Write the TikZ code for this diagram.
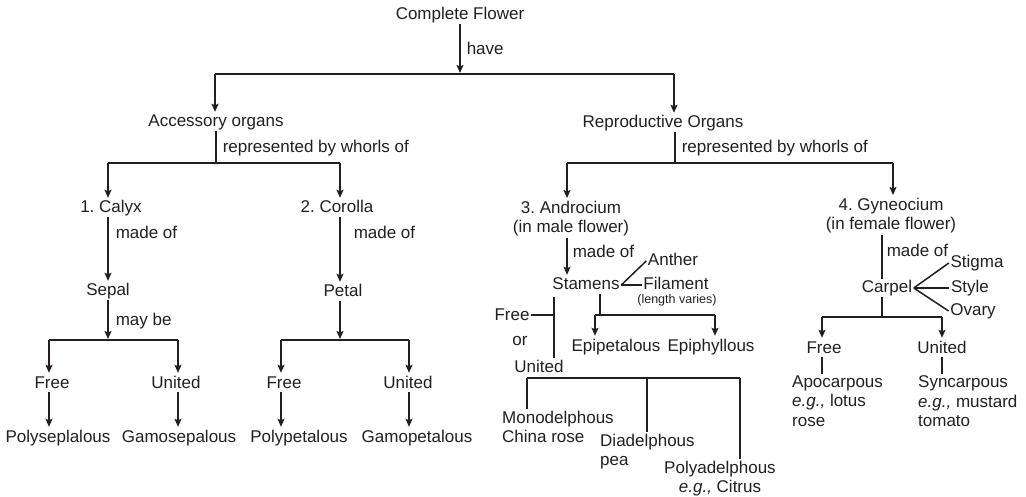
\documentclass[tikz,border=0pt]{standalone}
\usepackage{fontspec}
\setmainfont{Liberation Sans}
\usetikzlibrary{arrows.meta,positioning}
\definecolor{ink}{RGB}{35,31,32}
\frenchspacing

\begin{document}
\begin{tikzpicture}
[x=1pt,y=-1pt,
font=\fontsize{17}{19.5}\selectfont,
every node/.style={text=ink},
organ/.style={inner sep=1.5pt,text height=12.5pt,text depth=2.5pt},
twoline/.style={inner sep=1.5pt,align=center,anchor=north},
leftlines/.style={inner sep=1.5pt,align=left,anchor=north west},
tag/.style={inner sep=0pt,text height=12.5pt,text depth=2.5pt,anchor=west},
link/.style={draw=ink,line width=1.5pt},
post/.style={link,-{Stealth[length=8pt,width=7pt,inset=1.5pt]},shorten >=1pt}]
\useasboundingbox (0,0) rectangle (1026,497);
\node[organ] (flower) at (460,15) {Complete Flower};
\node[organ] (accessory) at (216,122) {Accessory organs};
\node[organ] (reproductive) at (663,123) {Reproductive Organs};
\node[organ] (calyx) at (111,208) {1. Calyx};
\node[organ] (corolla) at (337,208) {2. Corolla};
\node[twoline] (androcium) at (571,199) {3. Androcium\\(in male flower)};
\node[twoline] (gyneocium) at (891,196) {4. Gyneocium\\(in female flower)};
\node[organ] (sepal) at (108,291) {Sepal};
\node[organ] (petal) at (343,292) {Petal};
\node[organ] (sepal free) at (52,383) {Free};
\node[organ] (sepal united) at (176,383) {United};
\node[organ] (petal free) at (284,383) {Free};
\node[organ] (petal united) at (408,383) {United};
\node[organ] (polysepalous) at (58,437) {Polyseplalous};
\node[organ] (gamosepalous) at (179,437) {Gamosepalous};
\node[organ] (polypetalous) at (299,437) {Polypetalous};
\node[organ] (gamopetalous) at (417,437) {Gamopetalous};
\node[organ] (stamens) at (586,285) {Stamens};
\node[organ] (anther) at (673,261) {Anther};
\node[organ] (filament) at (676,285) {Filament};
\node[inner sep=0pt,font=\fontsize{12.5}{14}\selectfont] (length) at (677,300) {(length varies)};
\node[organ] (stamen free) at (512,315) {Free};
\node[organ] (or) at (520,340) {or};
\node[organ] (stamen united) at (539,367) {United};
\node[organ] (epipetalous) at (616,346) {Epipetalous};
\node[organ] (epiphyllous) at (711,346) {Epiphyllous};
\node[leftlines] (monodelphous) at (500.5,409) {Monodelphous\\China rose};
\node[leftlines] (diadelphous) at (598.5,432) {Diadelphous\\pea};
\node[twoline] (polyadelphous) at (720,459) {Polyadelphous\\\textit{e.g.,} Citrus};
\node[organ] (carpel) at (887,288) {Carpel};
\node[organ] (stigma) at (977,263) {Stigma};
\node[organ] (carpel style) at (970,288) {Style};
\node[organ] (ovary) at (973,311) {Ovary};
\node[organ] (carpel free) at (824,348) {Free};
\node[organ] (carpel united) at (942,348) {United};
\node[leftlines] (apocarpous) at (790.5,374) {Apocarpous\\\textit{e.g.,} lotus\\rose};
\node[leftlines] (syncarpous) at (916.5,374) {Syncarpous\\\textit{e.g.,} mustard\\tomato};
% junctions of the branching lines
\coordinate (main left) at (215,74);
\coordinate (main right) at (674,74);
\coordinate (acc hub) at (216,163);
\coordinate (acc left) at (108,163);
\coordinate (acc right) at (340,163);
\coordinate (rep hub) at (675,163);
\coordinate (rep left) at (567,163);
\coordinate (rep right) at (893,163);
\coordinate (sepal hub) at (108,340);
\coordinate (sepal left) at (49,340);
\coordinate (sepal right) at (178,340);
\coordinate (petal hub) at (340,340);
\coordinate (petal left) at (281,340);
\coordinate (petal right) at (409,340);
\coordinate (fork) at (554,297);
\coordinate (stamen hub) at (600,315);
\coordinate (stamen left) at (595,315);
\coordinate (stamen right) at (715,315);
\coordinate (united left) at (527,378);
\coordinate (united mid) at (647,378);
\coordinate (united right) at (740,378);
\coordinate (carpel hub) at (882,317);
\coordinate (carpel left) at (822,317);
\coordinate (carpel right) at (942,317);
% top level
\draw[post] (flower) -- (flower |- main left) node[tag,midway,xshift=6pt] (have) {have};
\draw[link] (main left) -- (main right);
\draw[post] (main left) -- (main left |- accessory.north);
\draw[post] (main right) -- (main right |- reproductive.north);
% accessory organs
\draw[link] (accessory) -- (acc hub) node[tag,midway,xshift=6pt] (acc whorls) {represented by whorls of};
\draw[link] (acc left) -- (acc right);
\draw[post] (acc left) -- (acc left |- calyx.north);
\draw[post] (acc right) -- (acc right |- corolla.north);
\draw[post] (acc left |- calyx.south) -- (sepal) node[tag,pos=.25,xshift=7pt] (calyx made) {made of};
\draw[post] (acc right |- corolla.south) -- (acc right |- petal.north) node[tag,pos=.25,xshift=13pt] (corolla made) {made of};
\draw[post] (sepal) -- (sepal hub) node[tag,midway,xshift=7pt] (may be) {may be};
\draw[link] (sepal left) -- (sepal right);
\draw[post] (sepal left) -- (sepal left |- sepal free.north);
\draw[post] (sepal right) -- (sepal right |- sepal united.north);
\draw[post] (sepal left |- sepal free.south) -- (sepal left |- polysepalous.north);
\draw[post] (sepal right |- sepal united.south) -- (sepal right |- gamosepalous.north);
\draw[post] (petal hub |- petal.south) -- (petal hub);
\draw[link] (petal left) -- (petal right);
\draw[post] (petal left) -- (petal left |- petal free.north);
\draw[post] (petal right) -- (petal right |- petal united.north);
\draw[post] (petal left |- petal free.south) -- (petal left |- polypetalous.north);
\draw[post] (petal right |- petal united.south) -- (petal right |- gamopetalous.north);
% reproductive organs
\draw[link] (rep hub |- reproductive.south) -- (rep hub) node[tag,midway,xshift=6pt] (rep whorls) {represented by whorls of};
\draw[link] (rep left) -- (rep right);
\draw[post] (rep left) -- (rep left |- androcium.north);
\draw[post] (rep right) -- (rep right |- gyneocium.north);
% androcium
\draw[post] (rep left |- androcium.south) -- (rep left |- stamens.north) node[tag,pos=.4,xshift=5pt] (andro made) {made of};
\draw[link] (stamens.east) -- (anther.west);
\draw[link] (stamens.east) -- (filament.west);
\draw[link] (fork) -- (fork |- stamen united.north);
\draw[link] (stamen free) -- (stamen free -| fork);
\draw[link] (stamen hub |- stamens.south) -- (stamen hub);
\draw[link] (stamen left) -- (stamen right);
\draw[post] (stamen left) -- (stamen left |- epipetalous.north);
\draw[post] (stamen right) -- (stamen right |- epiphyllous.north);
\draw[link] (united left) -- (united right);
\draw[link] (united left) -- (united left |- monodelphous.north);
\draw[link] (united mid) -- (united mid |- diadelphous.north);
\draw[link] (united right) -- (united right |- polyadelphous.north);
% gyneocium
\draw[link] (carpel hub |- gyneocium.south) -- (carpel hub |- carpel.north) node[tag,pos=.38,xshift=4pt] (gyno made) {made of};
\draw[link] (carpel.east) -- (stigma.west);
\draw[link] (carpel.east) -- (carpel style.west);
\draw[link] (carpel.east) -- (ovary.west);
\draw[link] (carpel hub |- carpel.south) -- (carpel hub);
\draw[link] (carpel left) -- (carpel right);
\draw[post] (carpel left) -- (carpel left |- carpel free.north);
\draw[post] (carpel right) -- (carpel right |- carpel united.north);
\draw[link] (carpel left |- carpel free.south) -- (carpel left |- apocarpous.north);
\draw[link] (carpel right |- carpel united.south) -- (carpel right |- syncarpous.north);
\end{tikzpicture}
\end{document}
